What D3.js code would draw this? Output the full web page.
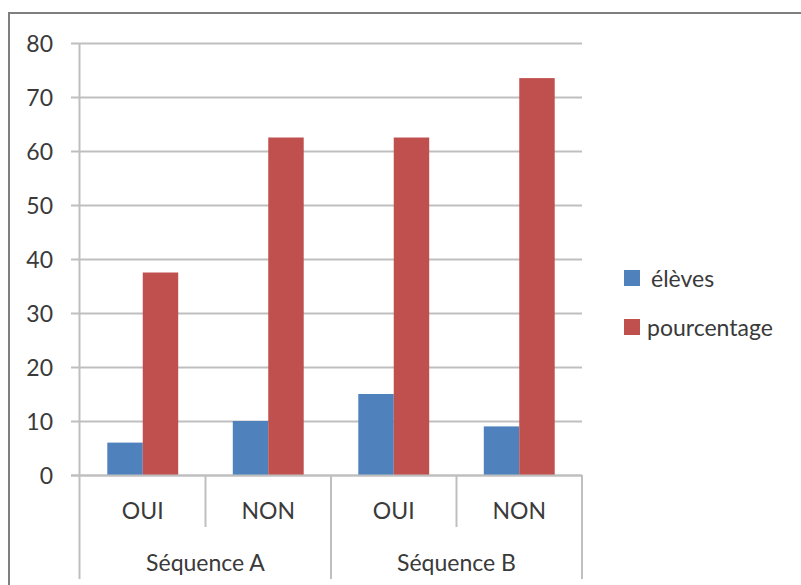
<!DOCTYPE html>
<html><head><meta charset="utf-8">
<script src="https://cdnjs.cloudflare.com/ajax/libs/d3/7.8.5/d3.min.js"></script>
<style>
html,body{margin:0;padding:0;background:#fff;}
svg{display:block;}
text{font-family:Lato,"Open Sans",sans-serif;fill:#3a3a3a;}
</style></head><body>
<svg id="c" width="801" height="585"></svg>
<script>
const categories = ["OUI", "NON", "OUI", "NON"];
const groups = ["Séquence A", "Séquence B"];
const seriesNames = ["élèves", "pourcentage"];
const eleves = [6, 10, 15, 9];
const pourcentage = [37.5, 62.5, 62.5, 73.5];
const yTicks = [0, 10, 20, 30, 40, 50, 60, 70, 80];
const colors = ["#4F81BD", "#C0504D"];

(function(){
const svg = d3.select("#c");
svg.append("path").attr("d","M9,600 L9,13 L820,13").attr("fill","none")
  .attr("stroke","#7f7f7f").attr("stroke-width",2);

const pLeft = 80, pRight = 582, pTop = 43, pBottom = 475;
const fs = 23;
const y = d3.scaleLinear().domain([0, 80]).range([pBottom, pTop]);
const ids = categories.map((c,i)=>i);
const x0 = d3.scaleBand().domain(ids).range([pLeft, pRight]).padding(0);
const x1 = d3.scaleBand().domain(seriesNames).range([0, x0.bandwidth()]).paddingInner(0).paddingOuter(0.77);

const grid = "#bfbfbf";
svg.append("g").selectAll("line").data(yTicks).join("line")
  .attr("x1", pLeft-9).attr("x2", pRight).attr("y1", d=>Math.round(y(d))+0.5).attr("y2", d=>Math.round(y(d))+0.5)
  .attr("stroke", grid).attr("stroke-width", 2);
svg.append("line").attr("x1",pLeft-0.5).attr("x2",pLeft-0.5).attr("y1",pTop).attr("y2",579).attr("stroke",grid).attr("stroke-width",2);
svg.append("g").selectAll("text").data(yTicks).join("text")
  .attr("x", 53).attr("y", d=>y(d)).attr("text-anchor","end").attr("dominant-baseline","central")
  .attr("font-size",fs).text(d=>d);

const data = ids.map(i=>[{s:seriesNames[0],v:eleves[i]},{s:seriesNames[1],v:pourcentage[i]}]);
const g = svg.append("g").selectAll("g").data(data).join("g").attr("transform",(d,i)=>`translate(${x0(i)},0)`);
g.selectAll("rect").data(d=>d).join("rect")
  .attr("x", d=>x1(d.s)).attr("width", x1.bandwidth())
  .attr("y", d=>y(d.v)).attr("height", d=>y(0)-y(d.v))
  .attr("fill",(d,i)=>colors[i]);

svg.append("line").attr("x1",pLeft-9).attr("x2",pRight).attr("y1",pBottom+0.5).attr("y2",pBottom+0.5).attr("stroke",grid).attr("stroke-width",2);

ids.forEach(i=>{
  const xe = x0(i)+x0.bandwidth();
  const isGroupEnd = (i%2===1);
  svg.append("line").attr("x1",xe).attr("x2",xe).attr("y1",pBottom).attr("y2",isGroupEnd?579:527)
    .attr("stroke",grid).attr("stroke-width",2);
});
svg.append("g").selectAll("text").data(ids).join("text")
  .attr("x", i=>x0(i)+x0.bandwidth()/2).attr("y",510).attr("text-anchor","middle").attr("dominant-baseline","central")
  .attr("font-size",fs).text(i=>categories[i]);
svg.append("g").selectAll("text").data(groups).join("text")
  .attr("x",(d,j)=>(x0(j*2)+x0(j*2+1)+x0.bandwidth())/2).attr("y",562).attr("text-anchor","middle").attr("dominant-baseline","central")
  .attr("font-size",fs).text(d=>d);

const leg = svg.append("g").selectAll("g").data(seriesNames).join("g")
  .attr("transform",(d,i)=>`translate(624,${270+i*49})`);
leg.append("rect").attr("width",16).attr("height",16).attr("fill",(d,i)=>colors[i]);
leg.append("text").attr("x",(d,i)=>i===0?27:23).attr("y",8).attr("dominant-baseline","central")
  .attr("font-size",fs).text(d=>d);
})();
</script>
</body></html>
